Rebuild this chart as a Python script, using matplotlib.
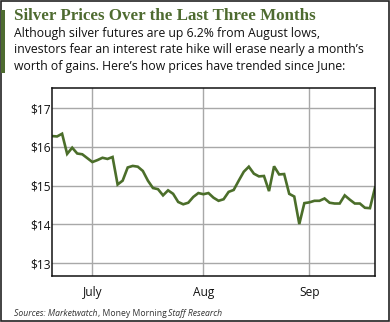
"""Silver prices over the last three months (June-Sep 2015)."""

import matplotlib

matplotlib.use("Agg")
import matplotlib.pyplot as plt
from matplotlib.patches import Rectangle

# trading-day closes
prices = [
    16.28, 16.27, 16.34, 15.82, 15.98, 15.83, 15.81, 15.71, 15.61, 15.66,
    15.72, 15.69, 15.74, 15.03, 15.13, 15.47, 15.51, 15.49, 15.38, 15.13,
    14.94, 14.91, 14.75, 14.88, 14.79, 14.58, 14.52, 14.56, 14.71, 14.81,
    14.78, 14.81, 14.69, 14.61, 14.65, 14.84, 14.89, 15.13, 15.36, 15.49,
    15.31, 15.24, 15.25, 14.86, 15.50, 15.29, 15.30, 14.79, 14.72, 14.01,
    14.55, 14.57, 14.61, 14.61, 14.67, 14.56, 14.54, 14.54, 14.75, 14.64,
    14.54, 14.54, 14.43, 14.42, 14.95,
]
month_labels = ["July", "Aug", "Sep"]
month_starts = [8, 30, 51]  # index of first trading day in each month
price_ticks = [13, 14, 15, 16, 17]

GREEN = "#4b6e2a"
TITLE_GREEN = "#4e6b30"

fig = plt.figure(figsize=(3.9, 3.22), dpi=100)
fig.patch.set_facecolor("white")

# outer frame and green accent bar
fig.patches.append(Rectangle((0.0015, 0.002), 0.997, 0.996, transform=fig.transFigure,
                             fill=False, edgecolor="#222222", linewidth=1.2))
fig.patches.append(Rectangle((0.003, 1 - 73 / 322), 0.009, 63 / 322, transform=fig.transFigure,
                             facecolor=TITLE_GREEN, edgecolor="none"))

fig.text(14 / 390, 1 - 16 / 322, "Silver Prices Over the Last Three Months",
         family="Liberation Serif", weight="bold", fontsize=12.2, color=TITLE_GREEN,
         va="center", ha="left")
subtitle = [
    "Although silver futures are up 6.2% from August lows,",
    "investors fear an interest rate hike will erase nearly a month\u2019s",
    "worth of gains. Here\u2019s how prices have trended since June:",
]
for k, line in enumerate(subtitle):
    fig.text(14 / 390, 1 - (34 + 16 * k) / 322, line, family="Open Sans",
             fontsize=8.8, color="#111111", va="center", ha="left")

ax = fig.add_axes([52 / 390, 46 / 322, 323 / 390, 188 / 322])
ax.plot(range(len(prices)), prices, color=GREEN, linewidth=1.9, solid_joinstyle="miter")
ax.set_xlim(0, len(prices) - 1)
ax.set_ylim(12.67, 17.52)
ax.set_yticks(price_ticks)
ax.set_yticklabels([f"${p}" for p in price_ticks])
ax.set_xticks(month_starts)
ax.set_xticklabels(month_labels)
ax.grid(True, color="#a8a8a8", linewidth=1.0)
ax.set_axisbelow(True)
ax.tick_params(length=0, labelsize=8.6, colors="#111111", pad=7)
ax.tick_params(axis="y", pad=16)
for lab in ax.get_yticklabels():
    lab.set_ha("left")
for lab in ax.get_xticklabels() + ax.get_yticklabels():
    lab.set_family("Open Sans")
for spine in ax.spines.values():
    spine.set_linewidth(1.1)
    spine.set_color("#111111")

src_y = 1 - 313 / 322
parts = [("Sources: Marketwatch", "italic"), (", Money Morning ", "normal"), ("Staff Research", "italic")]
x = 14 / 390
renderer = fig.canvas.get_renderer()
for txt, style in parts:
    t = fig.text(x, src_y, txt, family="Open Sans", style=style, fontsize=6.2,
                 color="#333333", va="center", ha="left")
    bb = t.get_window_extent(renderer=renderer)
    x += bb.width / fig.bbox.width

fig.savefig("out.png", dpi=100, facecolor="white")
